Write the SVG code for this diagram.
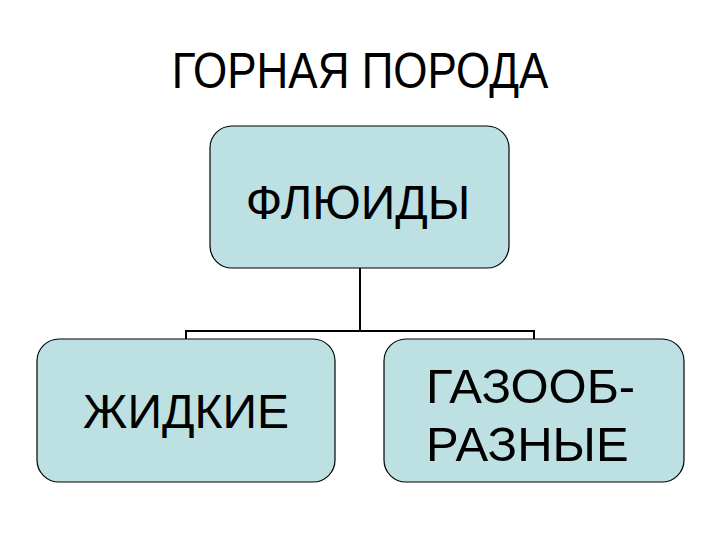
<svg xmlns="http://www.w3.org/2000/svg" width="720" height="540" viewBox="0 0 720 540">
<style>
.box{fill:#bde0e2;stroke:#000;stroke-width:1.2}
.t{font-family:"Liberation Sans",Arial,sans-serif;fill:#000}
.c{fill:none;stroke:#000;stroke-width:2}
</style>
<rect width="720" height="540" fill="#fff"/>
<text class="t" transform="translate(360,88) scale(1,1.15)" font-size="44" text-anchor="middle">ГОРНАЯ ПОРОДА</text>
<g id="connectors">
<path class="c" d="M360,268 V331 M186,339 V331 H534 V339"/>
</g>
<g id="node-fluids">
<rect class="box" x="210" y="126" width="299" height="142" rx="22"/>
<text class="t" x="358" y="219" font-size="48" text-anchor="middle">ФЛЮИДЫ</text>
</g>
<g id="node-liquid">
<rect class="box" x="37" y="339" width="298" height="143" rx="22"/>
<text class="t" x="186" y="428" font-size="48" text-anchor="middle">ЖИДКИЕ</text>
</g>
<g id="node-gas">
<rect class="box" x="384" y="339" width="300" height="143" rx="22"/>
<text class="t" x="426" y="403" font-size="49">ГАЗООБ-</text>
<text class="t" x="426" y="461" font-size="49">РАЗНЫЕ</text>
</g>
</svg>
